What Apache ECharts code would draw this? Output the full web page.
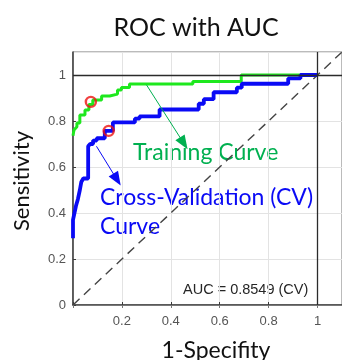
<!DOCTYPE html>
<html>
<head>
<meta charset="utf-8">
<script src="https://cdn.jsdelivr.net/npm/echarts@6/dist/echarts.min.js"></script>
<style>
  html, body { margin: 0; padding: 0; background: #fff; }
  #chart { width: 342px; height: 360px; }
</style>
</head>
<body>
<div id="chart"></div>
<script>
// Training ROC curve (false positive rate, true positive rate)
const trainFpr = [0, 0.004, 0.008, 0.016, 0.016, 0.028, 0.028, 0.049, 0.049, 0.065, 0.065, 0.081, 0.081, 0.117, 0.117, 0.150, 0.150, 0.182, 0.182, 0.198, 0.198, 0.231, 0.231, 0.490, 0.490, 0.688, 0.688, 1.0];
const trainTpr = [0.736, 0.761, 0.761, 0.775, 0.791, 0.791, 0.826, 0.826, 0.848, 0.848, 0.872, 0.872, 0.891, 0.891, 0.909, 0.909, 0.917, 0.917, 0.935, 0.935, 0.946, 0.946, 0.961, 0.961, 0.972, 0.972, 1.0, 1.0];

// Cross-validation ROC curve
const cvFpr = [0, 0, 0.006, 0.006, 0.012, 0.012, 0.020, 0.020, 0.028, 0.028, 0.034, 0.034, 0.042, 0.042, 0.062, 0.062, 0.070, 0.070, 0.082, 0.082, 0.097, 0.097, 0.130, 0.130, 0.163, 0.163, 0.253, 0.253, 0.272, 0.272, 0.354, 0.354, 0.514, 0.514, 0.535, 0.535, 0.575, 0.575, 0.670, 0.670, 0.690, 0.690, 0.880, 0.880, 0.930, 0.930, 1.0];
const cvTpr = [0.29, 0.37, 0.37, 0.40, 0.40, 0.43, 0.43, 0.46, 0.46, 0.50, 0.50, 0.535, 0.535, 0.55, 0.55, 0.69, 0.69, 0.70, 0.70, 0.715, 0.715, 0.725, 0.725, 0.757, 0.757, 0.794, 0.794, 0.810, 0.810, 0.820, 0.820, 0.850, 0.850, 0.875, 0.875, 0.895, 0.895, 0.925, 0.925, 0.945, 0.945, 0.962, 0.962, 0.985, 0.985, 1.0, 1.0];

// Operating points marked on each curve
const trainOpPoint = [0.073, 0.883];
const cvOpPoint = [0.146, 0.757];

// Chance line
const chanceX = [0, 1.1];
const chanceY = [0, 1.1];

// Callout arrows: [start, tip]
const trainArrow = [[0.300, 0.958], [0.453, 0.703]];
const cvArrow = [[0.096, 0.690], [0.180, 0.545]];

const xTicks = [0.2, 0.4, 0.6, 0.8, 1];
const yTicks = [0, 0.2, 0.4, 0.6, 0.8, 1];

const aucText = 'AUC = 0.8549 (CV)';

const zip = (a, b) => a.map((v, i) => [v, b[i]]);

const GREEN_LINE = '#1ee81e';
const GREEN_TEXT = '#00b050';
const BLUE = '#0a0af5';
const AXIS = '#3a3a3a';
const LABEL = '#555555';
const GRID = '#e3e3e3';

const chart = echarts.init(document.getElementById('chart'), null, { renderer: 'canvas' });

const fmt = (ticks) => (v) => {
  const hit = ticks.find(t => Math.abs(t - v) < 1e-6);
  return hit === undefined ? '' : String(hit);
};

const option = {
  backgroundColor: '#ffffff',
  animation: false,
  title: {
    text: 'ROC with AUC',
    left: 191, top: 10, textAlign: 'center',
    textStyle: { fontFamily: 'Lato', fontWeight: 'normal', fontSize: 25, color: '#111' }
  },
  grid: { left: 73, top: 52, bottom: 55, right: -2.7, show: true, borderColor: '#777', borderWidth: 1 },
  xAxis: [{
    type: 'value', min: 0, max: 1.1, interval: 0.2,
    axisLine: { show: true, onZero: false, lineStyle: { color: AXIS, width: 1.5 } },
    axisTick: { show: true, inside: true, length: 3, lineStyle: { color: AXIS } },
    splitLine: { show: true, lineStyle: { color: GRID, width: 1 } },
    axisLabel: { formatter: fmt(xTicks), color: LABEL, fontFamily: 'Liberation Sans', fontSize: 13, margin: 10, showMaxLabel: false },
  }, {
    type: 'value', position: 'top', min: 0, max: 1.1, interval: 0.2,
    axisLine: { show: true, lineStyle: { color: '#777', width: 1 } },
    axisTick: { show: true, inside: true, length: 3, lineStyle: { color: '#777' } },
    splitLine: { show: false },
    axisLabel: { show: false }
  }],
  yAxis: [{
    type: 'value', min: 0, max: 1.1, interval: 0.2,
    axisLine: { show: true, onZero: false, lineStyle: { color: AXIS, width: 1.5 } },
    axisTick: { show: true, inside: true, length: 3, lineStyle: { color: AXIS } },
    splitLine: { show: true, lineStyle: { color: GRID, width: 1 } },
    axisLabel: { formatter: fmt(yTicks), color: LABEL, fontFamily: 'Liberation Sans', fontSize: 13, margin: 7, showMaxLabel: false },
  }],
  series: [
    {
      // chance diagonal + reference lines at x = 1 and y = 1
      type: 'line', data: zip(chanceX, chanceY), showSymbol: false, silent: true,
      lineStyle: { color: '#444', width: 1.4, type: [9, 6] },
      z: 2,
      markLine: {
        silent: true, symbol: ['none', 'none'], animation: false,
        label: { show: false },
        lineStyle: { color: '#2b2b2b', width: 1.3, type: 'solid' },
        data: [{ yAxis: 1 }, { xAxis: 1 }]
      }
    },
    {
      type: 'line', name: 'Training', data: zip(trainFpr, trainTpr), showSymbol: false,
      lineStyle: { color: GREEN_LINE, width: 3 }, z: 3
    },
    {
      type: 'line', name: 'CV', data: zip(cvFpr, cvTpr), showSymbol: false,
      lineStyle: { color: BLUE, width: 3.8 }, z: 4
    },
    {
      type: 'scatter', data: [trainOpPoint, cvOpPoint], symbol: 'circle', symbolSize: 10,
      itemStyle: { color: 'rgba(0,0,0,0)', borderColor: '#ee1111', borderWidth: 2.4 }, z: 6
    },
    {
      // callout arrows
      type: 'line', data: [], z: 5,
      markLine: {
        silent: true, animation: false, symbol: ['none', 'triangle'], symbolSize: [11, 14],
        label: { show: false },
        data: [
          [{ coord: trainArrow[0], lineStyle: { color: GREEN_TEXT, width: 1, type: 'solid' }, itemStyle: { color: GREEN_TEXT } }, { coord: trainArrow[1] }],
          [{ coord: cvArrow[0], lineStyle: { color: BLUE, width: 1, type: 'solid' }, itemStyle: { color: BLUE } }, { coord: cvArrow[1] }]
        ]
      }
    }
  ],
  graphic: [
    { type: 'text', x: 216, y: 339, style: { text: '1-Specifity', fontFamily: 'Lato', fontSize: 23, fill: '#111', textAlign: 'center' } },
    { type: 'text', x: 11, y: 231, rotation: Math.PI / 2, style: { text: 'Sensitivity', fontFamily: 'Lato', fontSize: 22, fill: '#111', textBaseline: 'top' } },
    { type: 'text', x: 133, y: 141, style: { text: 'Training Curve', fontFamily: 'Lato', fontSize: 23, fill: GREEN_TEXT } },
    { type: 'text', x: 100, y: 186, style: { text: 'Cross-Validation (CV)', fontFamily: 'Lato', fontSize: 23, fill: BLUE } },
    { type: 'text', x: 100, y: 215, style: { text: 'Curve', fontFamily: 'Lato', fontSize: 23, fill: BLUE } },
    { type: 'text', x: 183, y: 282, style: { text: aucText, fontFamily: 'Liberation Sans', fontSize: 14.5, fill: '#262626' } }
  ]
};

chart.setOption(option);
</script>
</body>
</html>
